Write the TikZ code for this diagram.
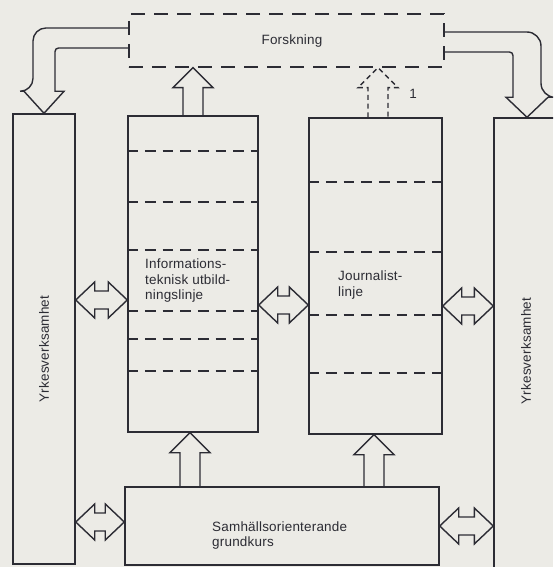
\documentclass[tikz,border=0pt]{standalone}
\usepackage{fontspec}
\setmainfont[LetterSpace=1.5]{Liberation Sans}
\usepackage{xcolor}
\usepackage{tikz}
\usetikzlibrary{calc}

\definecolor{paper}{RGB}{236,235,230}
\definecolor{ink}{RGB}{44,44,52}

\newcommand{\blockup}[3][]{%
  \coordinate (bu1) at #2;
  \coordinate (bu2) at #3;
  \draw[blk,#1] ($(bu1)+(-10,0)$) -- ($(bu2)+(-10,20)$) -- ($(bu2)+(-20,20)$) -- (bu2)
    -- ($(bu2)+(20,20)$) -- ($(bu2)+(10,20)$) -- ($(bu1)+(10,0)$);}
\newcommand{\blockboth}[2]{%
  \coordinate (bb1) at #1;
  \coordinate (bb2) at #2;
  \draw[blk] (bb1) -- ($(bb1)+(19,-18)$) -- ($(bb1)+(19,-9)$) -- ($(bb2)+(-19,-9)$)
    -- ($(bb2)+(-19,-18)$) -- (bb2) -- ($(bb2)+(-19,18)$) -- ($(bb2)+(-19,9)$)
    -- ($(bb1)+(19,9)$) -- ($(bb1)+(19,18)$) -- cycle;}

\begin{document}
\begin{tikzpicture}[x=0.03cm,y=-0.03cm,
  box/.style={draw=ink,line width=1.2pt,inner sep=0pt},
  dbox/.style={box,dash pattern=on 4.2mm off 2.7mm},
  sep/.style={draw=ink,line width=1.2pt,dash pattern=on 3.2mm off 2.1mm},
  blk/.style={draw=ink,line width=1.2pt,line join=miter},
  dasharrow/.style={dash pattern=on 1.5mm off 1.1mm},
  txt/.style={text=ink,inner sep=0pt,font=\fontsize{11.5}{13}\selectfont,align=left}]
  \path[fill=paper,use as bounding box] (0,0) rectangle (553,567);
  \clip (0,0) rectangle (553,567);

  \node[dbox,minimum width=9.45cm,minimum height=1.59cm] (forsk) at (286.5,40.5) {};
  \node[txt] (forsktxt) at (292,41) {Forskning};
  \node[box,minimum width=1.86cm,minimum height=13.5cm] (yrkL) at (44,339) {};
  \node[box,minimum width=1.98cm,minimum height=15.06cm] (yrkR) at (527,369) {};
  \node[box,minimum width=3.9cm,minimum height=9.48cm] (info) at (193,274) {};
  \node[box,minimum width=3.99cm,minimum height=9.48cm] (jour) at (375.5,276) {};
  \node[box,minimum width=9.42cm,minimum height=2.34cm] (grund) at (282,526) {};

  \node[txt,rotate=90] (yrkLtxt) at (44,349) {Yrkesverksamhet};
  \node[txt,rotate=90] (yrkRtxt) at (526,351) {Yrkesverksamhet};
  \node[txt,anchor=north west] (infotxt) at (145,259) {Informations-\\teknisk utbild-\\ningslinje};
  \node[txt,anchor=north west] (jourtxt) at (338,271) {Journalist-\\linje};
  \node[txt,anchor=north west] (grundtxt) at (212,521) {Samhällsorienterande\\grundkurs};
  \node[txt] (one) at (413,94) {1};

  \foreach \y in {151,202,250,311,339,371}
    \draw[sep] (info.west |- 0,\y) -- (info.east |- 0,\y);
  \foreach \y in {182,252,315,373}
    \draw[sep] (jour.west |- 0,\y) -- (jour.east |- 0,\y);

  \draw[blk,rounded corners=11pt] (forsk.west |- 0,28) -| ($(yrkL.north)+(-11,-22)$) [sharp corners]
    -- ($(yrkL.north)+(-20,-22)$) -- (yrkL.north) -- ($(yrkL.north)+(20,-22)$)
    -- ($(yrkL.north)+(11,-22)$) [rounded corners=3pt] |- (forsk.west |- 0,48);
  \draw[blk,rounded corners=12pt] (forsk.east |- 0,32) -| ($(yrkR.north)+(14,-20)$) [sharp corners]
    -- ($(yrkR.north)+(21,-20)$) -- (yrkR.north) -- ($(yrkR.north)+(-21,-20)$)
    -- ($(yrkR.north)+(-14,-20)$) [rounded corners=3pt] |- (forsk.east |- 0,52);

  \blockup{(info.north -| 193,0)}{(forsk.south -| 193,0)}
  \blockup[dasharrow]{(jour.north -| 378,0)}{(forsk.south -| 378,0)}
  \blockup{(grund.north -| 190,0)}{(info.south -| 190,0)}
  \blockup{(grund.north -| 374,0)}{(jour.south -| 374,0)}

  \blockboth{(yrkL.east |- 0,300)}{(info.west |- 0,300)}
  \blockboth{(info.east |- 0,305)}{(jour.west |- 0,305)}
  \blockboth{(jour.east |- 0,306)}{(yrkR.west |- 0,306)}
  \blockboth{(yrkL.east |- 0,522)}{(grund.west |- 0,522)}
  \blockboth{(grund.east |- 0,526)}{(yrkR.west |- 0,526)}
\end{tikzpicture}
\end{document}
